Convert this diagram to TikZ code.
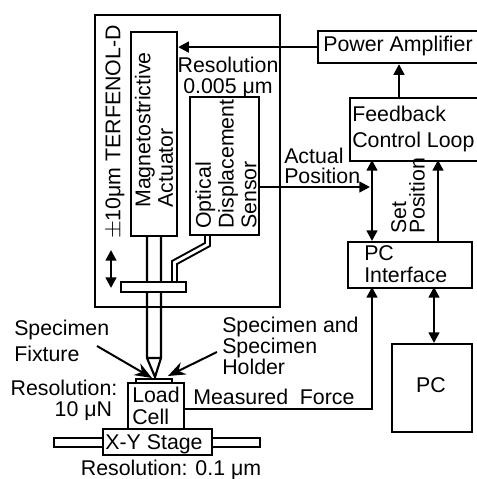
\documentclass[tikz,border=0pt]{standalone}
\usepackage{fontspec}
\usepackage{tikz}
\usetikzlibrary{arrows.meta}
\setmainfont{Liberation Sans}

\tikzset{
  lbl/.style={inner sep=0.75pt,align=left,font=\fontsize{16}{16}\selectfont},
  box/.style={draw,fill=white,line width=1.6pt,inner sep=0pt,anchor=north west,align=left,font=\fontsize{16}{16}\selectfont},
  line/.style={line width=1.6pt},
  arr/.style={line width=1.8pt,-{Triangle[length=8pt,width=8pt]}},
  dbl/.style={line width=1.8pt,{Triangle[length=8pt,width=8pt]}-{Triangle[length=8pt,width=8pt]}},
  pointer/.style={line width=1.5pt,-{Stealth[length=13pt,width=10pt]}}
}

\begin{document}
\begin{tikzpicture}[x=0.75pt,y=0.75pt,yscale=-1,xscale=1]
\useasboundingbox (0,0) rectangle (477,479);

% Outer frame
\node (frame) [box,minimum width=138.75pt,minimum height=219pt] at (94,14) {};

% Rod and tip
\draw [line] (147,234) -- (147,358) -- (155,377) -- (161,358) -- (161,234) (147,358) -- (161,358);
% Probe of the sensor
\draw [line width=1.4pt] (205,234) -- (205,243) -- (172,261) -- (172,282) -- (177,282) -- (177,264) -- (210,246) -- (210,234);

% Boxes
\node (actuator) [box,minimum width=34.5pt,minimum height=153pt] at (130,31) {};
\node (sensor) [box,minimum width=51.75pt,minimum height=103.5pt] at (189,96) {};
\node (plate) [box,minimum width=48.75pt,minimum height=7.5pt] at (120,281) {};
\node (holder) [box,minimum width=27pt,minimum height=3pt] at (135,378) {};
\node (loadcell) [box,minimum width=42pt,minimum height=34.5pt] at (127,382) {};
\node (railleft) [box,minimum width=36.75pt,minimum height=6.75pt] at (53,437) {};
\node (railright) [box,minimum width=36pt,minimum height=6.75pt] at (211,437) {};
\node (stage) [box,minimum width=81.75pt,minimum height=19.5pt] at (102,428) {};
\node (power) [box,minimum width=126pt,minimum height=24pt] at (317,30) {};
\node (feedback) [box,minimum width=100pt,minimum height=47.25pt] at (349,97) {};
\node (interface) [box,minimum width=93pt,minimum height=34.5pt] at (347,241) {};
\node (pc) [box,minimum width=60pt,minimum height=66pt] at (391,343) {};

% Free ends
\coordinate (sensorout) at (258,187);
\coordinate (loadout) at (183,409);
\coordinate (fbup) at (399,97);
\coordinate (posbottom) at (372,241);
\coordinate (postop) at (372,160);
\coordinate (posmid) at (370,187);
\coordinate (setbottom) at (438,241);
\coordinate (settop) at (438,160);
\coordinate (forceend) at (372,287);
\coordinate (pcup) at (434,287);
\coordinate (pcdown) at (434,343);
\coordinate (updown) at (111,250);
\coordinate (updownend) at (111,288);
\coordinate (fixturefrom) at (97,346);
\coordinate (fixtureto) at (152,378);
\coordinate (holderfrom) at (217,352);
\coordinate (holderto) at (168,376);

% Connectors
\draw [arr] (power.west) -- (power.west -| actuator.east);
\draw [arr] (fbup) -- (fbup |- power.south);
\draw [arr] (sensorout) -- (posmid);
\draw [dbl] (posbottom) -- (postop);
\draw [arr] (setbottom) -- (settop);
\draw [dbl] (pcup) -- (pcdown);
\draw [arr] (loadout) -| (forceend);
\draw [dbl] (updown) -- (updownend);
\draw [pointer] (fixturefrom) -- (fixtureto);
\draw [pointer] (holderfrom) -- (holderto);

% Text Node
\node (tmag) [lbl,rotate=90] at (154,130) {Magnetostrictive\\[1pt]Actuator};
\node (tsensor) [lbl,rotate=90] at (226,164) {Optical\\[1pt]Displacement\\[1pt]Sensor};
\node (tstroke) [lbl,rotate=90] at (115,132) {$\pm$10μm TERFENOL-D};
\node (tres) [lbl,align=center] at (228,77) {Resolution\\0.005 μm};
\node (tpower) [lbl] at (398,46) {Power Amplifier};
\node (tfeed) [lbl,anchor=west] at (351,129) {Feedback\\[4pt]Control Loop};
\node (tactual) [lbl,anchor=west] at (283,166) {Actual\\[-1pt]Position};
\node (tset) [lbl,rotate=90] at (408,196) {Set\\[-2pt]Position};
\node (tifc) [lbl,anchor=west] at (363,264) {PC\\Interface};
\node (tpc) [lbl] at (431,385) {PC};
\node (tfix) [lbl,anchor=west] at (13,341) {Specimen\\[4pt]Fixture};
\node (thold) [lbl,anchor=west] at (221,346) {Specimen and\\Specimen\\Holder};
\node (tres10) [lbl,align=right] at (64,400) {Resolution:\\10 μN\hspace*{4pt}};
\node (tload) [lbl,anchor=west] at (131,406) {Load\\Cell};
\node (tforce) [lbl,anchor=west] at (192,397) {Measured\ \ Force};
\node (tstage) [lbl] at (154,444) {X-Y Stage};
\node (tres01) [lbl] at (171,470) {Resolution: 0.1 μm};
\end{tikzpicture}
\end{document}
